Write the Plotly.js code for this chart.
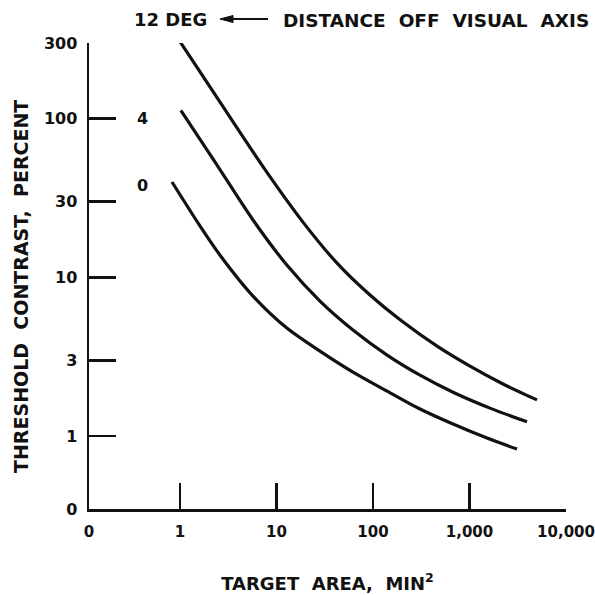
<!DOCTYPE html>
<html>
<head>
<meta charset="utf-8">
<script src="https://cdn.plot.ly/plotly-3.0.1.min.js"></script>
<style>html,body{margin:0;padding:0;background:#fff;}#chart{width:595px;height:595px;}</style>
</head>
<body>
<div id="chart"></div>
<script>
// Data (log-log axes)
const deg12_x = [0.931, 2.60, 7.42, 18.8, 42.4, 93.1, 205, 461, 1012, 2225, 5005];
const deg12_y = [327, 127, 48.8, 22.3, 12.3, 7.74, 5.23, 3.69, 2.76, 2.13, 1.69];

const deg4_x = [1.02, 2.31, 5.71, 12.8, 28.2, 62.0, 140, 307, 675, 1631, 3944];
const deg4_y = [113, 53.3, 23.0, 11.96, 7.09, 4.66, 3.24, 2.42, 1.89, 1.50, 1.23];

const deg0_x = [0.826, 1.61, 2.60, 5.71, 12.8, 28.2, 62.0, 140, 307, 675, 1518, 3106];
const deg0_y = [39.9, 21.1, 13.8, 7.62, 4.79, 3.43, 2.53, 1.92, 1.48, 1.19, 0.971, 0.828];

const xTickVals = [0.114, 1, 10, 100, 1000, 10000];
const xTickText = ["0", "1", "10", "100", "1,000", "10,000"];
const yTickVals = [0.347, 1, 3, 10, 30, 100, 300];
const yTickText = ["0", "1", "3", "10", "30", "100", "300"];

const FONT = "DejaVu Sans, Arial, sans-serif";
const INK = "#111";
const lineStyle = {color: INK, width: 3.2, shape: "spline", smoothing: 0.9};

const traces = [
  {x: deg12_x, y: deg12_y, name: "12 DEG", mode: "lines", line: lineStyle, cliponaxis: false},
  {x: deg4_x, y: deg4_y, name: "4", mode: "lines", line: lineStyle, cliponaxis: false},
  {x: deg0_x, y: deg0_y, name: "0", mode: "lines", line: lineStyle, cliponaxis: false}
];

// pixel helpers for decorations outside the data (paper coordinates)
const L = 89, T = 43, W = 477, H = 466;
const px = v => (v - L) / W;
const py = v => (T + H - v) / H;
const NB = "\u00A0";

const layout = {
  width: 595, height: 595,
  margin: {l: L, r: 595 - L - W, t: T, b: 595 - T - H},
  paper_bgcolor: "#fff", plot_bgcolor: "#fff",
  showlegend: false,
  font: {family: FONT, color: INK},
  xaxis: {
    type: "log",
    range: [Math.log10(0.114), 4],
    tickvals: xTickVals, ticktext: xTickText,
    ticks: "inside", ticklen: 26, tickwidth: 2.5, tickcolor: INK,
    showline: true, linewidth: 2.5, linecolor: INK,
    showgrid: false, zeroline: false,
    tickfont: {family: FONT, size: 15, color: INK, weight: "bold"},
    ticklabelstandoff: 7,
    title: {text: "TARGET" + NB + " AREA," + NB + " MIN<sup>2</sup>", font: {family: FONT, size: 18, color: INK, weight: "bold"}, standoff: 38},
    automargin: false
  },
  yaxis: {
    type: "log",
    range: [Math.log10(0.347), Math.log10(300)],
    tickvals: yTickVals, ticktext: yTickText,
    ticks: "inside", ticklen: 27, tickwidth: 2.5, tickcolor: INK,
    showline: true, linewidth: 2.5, linecolor: INK,
    showgrid: false, zeroline: false,
    tickfont: {family: FONT, size: 16, color: INK, weight: "bold"},
    ticklabelstandoff: 6,
    automargin: false
  },
  shapes: [
    {type: "line", xref: "paper", yref: "paper", x0: px(230), x1: px(268), y0: py(19), y1: py(19),
     line: {color: INK, width: 2}},
    {type: "path", xref: "paper", yref: "paper",
     path: "M " + px(220) + "," + py(19) + " L " + px(233) + "," + py(15.5) + " L " + px(233) + "," + py(22.5) + " Z",
     fillcolor: INK, line: {color: INK, width: 1}}
  ],
  annotations: [
    {xref: "paper", yref: "paper", x: px(21), y: py(287), textangle: -90,
     text: "THRESHOLD" + NB + " CONTRAST," + NB + " PERCENT", showarrow: false,
     xanchor: "center", yanchor: "middle", font: {family: FONT, size: 19, color: INK, weight: "bold"}},
    {xref: "paper", yref: "paper", x: px(170), y: py(19), text: "12" + NB + "DEG", showarrow: false,
     xanchor: "center", yanchor: "middle", font: {family: FONT, size: 18, color: INK, weight: "bold"}},
    {xref: "paper", yref: "paper", x: px(281), y: py(21), text: "DISTANCE" + NB + " OFF" + NB + " VISUAL" + NB + " AXIS", showarrow: false,
     xanchor: "left", yanchor: "middle", font: {family: FONT, size: 18.5, color: INK, weight: "bold"}},
    {xref: "paper", yref: "paper", x: px(142), y: py(118), text: "4", showarrow: false,
     xanchor: "center", yanchor: "middle", font: {family: FONT, size: 16, color: INK, weight: "bold"}},
    {xref: "paper", yref: "paper", x: px(142), y: py(185), text: "0", showarrow: false,
     xanchor: "center", yanchor: "middle", font: {family: FONT, size: 16, color: INK, weight: "bold"}}
  ]
};

Plotly.newPlot("chart", traces, layout, {staticPlot: true, displayModeBar: false}).then(gd => {
  // drop empty placeholder text nodes Plotly leaves for unused titles
  gd.querySelectorAll("text").forEach(t => {
    if (!t.textContent || !t.textContent.trim()) t.remove();
  });
});
</script>
</body>
</html>
